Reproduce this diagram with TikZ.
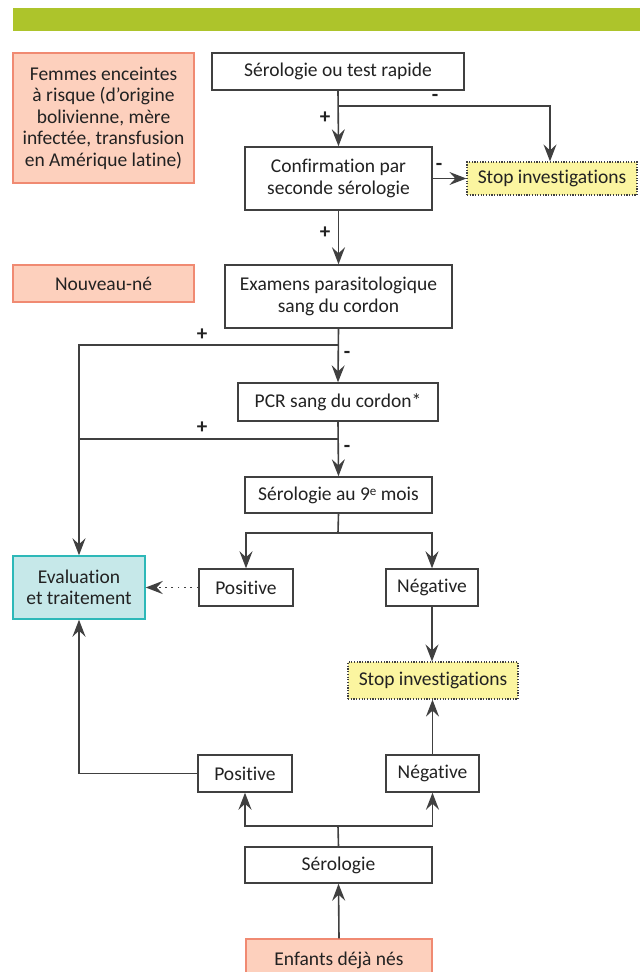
\documentclass[tikz,border=0pt]{standalone}
\usepackage{fontspec}
\setmainfont{Carlito}[RawFeature={-liga;-dlig;-clig}]
\usetikzlibrary{arrows.meta}
\definecolor{barg}{HTML}{ADC42B}
\definecolor{pinkf}{HTML}{FDD0BD}
\definecolor{pinkd}{HTML}{F08A72}
\definecolor{cyanf}{HTML}{C6E8E9}
\definecolor{cyand}{HTML}{2DB8B8}
\definecolor{yelf}{HTML}{FBF5A0}
\definecolor{boxd}{HTML}{404040}
\definecolor{txt}{HTML}{222222}
\newcommand{\supe}{\raisebox{0.45ex}{\fontsize{13}{13}\selectfont e}}
\tikzset{
  base/.style={rectangle, inner sep=0pt, align=center, text=txt,
    font=\fontsize{19.5}{21.5}\selectfont, line width=1.4pt},
  plain/.style={base, draw=boxd, fill=white},
  pinkbox/.style={base, draw=pinkd, fill=pinkf},
  cyanbox/.style={base, draw=cyand, fill=cyanf},
  stopbox/.style={base, draw=boxd, fill=yelf, dash pattern=on 1.2pt off 1.5pt, line width=1.2pt},
  conn/.style={draw=boxd, line width=1.6pt},
  arr/.style={conn, -{Stealth[length=17pt, width=13pt, inset=6pt]}},
  sgn/.style={text=txt, font=\fontsize{21}{21}\bfseries\selectfont, inner sep=0pt}
}
\begin{document}
\begin{tikzpicture}[x=1pt, y=-1pt]
\useasboundingbox[fill=white] (0,0) rectangle (640,972);
\fill[barg] (13,8) rectangle (640,31);

\node[pinkbox, minimum width=181pt, minimum height=130pt] (fem) at (103.5,118)
  {Femmes enceintes\\à risque (d’origine\\bolivienne, mère\\infectée, transfusion\\en Amérique latine)};
\node[plain, minimum width=252pt, minimum height=37pt] (sero1) at (338,71.5) {Sérologie ou test rapide};
\node[plain, minimum width=187pt, minimum height=63pt] (conf) at (338.5,178.5) {Confirmation par\\seconde sérologie};
\node[stopbox, minimum width=170pt, minimum height=33pt] (stop1) at (552,178.5) {Stop investigations};
\node[pinkbox, minimum width=181pt, minimum height=37pt] (nouv) at (103.5,283.5) {Nouveau-né};
\node[plain, minimum width=227pt, minimum height=63pt] (exam) at (338.5,296.5) {Examens parasitologique\\sang du cordon};
\node[plain, minimum width=200pt, minimum height=38pt] (pcr) at (338,402) {PCR sang du cordon*};
\node[plain, minimum width=187pt, minimum height=36pt] (sero9) at (338.5,495) {Sérologie au 9\supe{} mois};
\node[plain, minimum width=94pt, minimum height=37pt] (pos1) at (246,587.5) {Positive};
\node[plain, minimum width=92pt, minimum height=37pt] (neg1) at (432,587.5) {Négative};
\node[cyanbox, minimum width=132pt, minimum height=63pt] (eval) at (79,587.5) {Evaluation\\et traitement};
\node[stopbox, minimum width=170pt, minimum height=37pt] (stop2) at (433,680.5) {Stop investigations};
\node[plain, minimum width=94pt, minimum height=37pt] (pos2) at (245,773.5) {Positive};
\node[plain, minimum width=93pt, minimum height=37pt] (neg2) at (432.5,773.5) {Négative};
\node[plain, minimum width=187pt, minimum height=36pt] (sero) at (338.5,865) {Sérologie};
\node[pinkbox, minimum width=186pt, minimum height=42pt] (enf) at (339,960) {Enfants déjà nés};

\coordinate (b1) at (338,106);
\coordinate (m1) at (338,345);
\coordinate (l1) at (79,345);
\coordinate (m2) at (338,439);
\coordinate (l2) at (79,439);
\coordinate (b9) at (338,533);
\coordinate (bs) at (338,826);

\draw[arr] (sero1.south) -- (conf.north);
\draw[arr] (b1) -| ([xshift=-2pt]stop1.north);
\draw[arr] (conf.east) -- (stop1.west);
\draw[arr] (conf.south) -- (exam.north);
\draw[arr] (exam.south) -- (pcr.north);
\draw[arr] (m1) -- (l1) -- (eval.north);
\draw[conn] (m2) -- (l2);
\draw[arr] (pcr.south) -- (sero9.north);
\draw[conn] (sero9.south) -- (b9);
\draw[arr] (b9) -| (pos1.north);
\draw[arr] (b9) -| (neg1.north);
\draw[arr, line width=1.8pt, dash pattern=on 1.8pt off 4.5pt] (pos1.west) -- (eval.east);
\draw[arr] (neg1.south) -- (neg1.south |- stop2.north);
\draw[arr] (neg2.north) -- (neg2.north |- stop2.south);
\draw[arr] (pos2.west) -| (eval.south);
\draw[conn] (sero.north) -- (bs);
\draw[arr] (bs) -| (pos2.south);
\draw[arr] (bs) -| (neg2.south);
\draw[arr] (enf.north) -- (sero.south);

\node[sgn] (s1) at (325,118) {+};
\node[sgn] (s2) at (435,98) {-};
\node[sgn] (s3) at (439,167) {-};
\node[sgn] (s4) at (325,233) {+};
\node[sgn] (s5) at (202,335) {+};
\node[sgn] (s6) at (347,355) {-};
\node[sgn] (s7) at (202,428) {+};
\node[sgn] (s8) at (347,449) {-};
\end{tikzpicture}
\end{document}
